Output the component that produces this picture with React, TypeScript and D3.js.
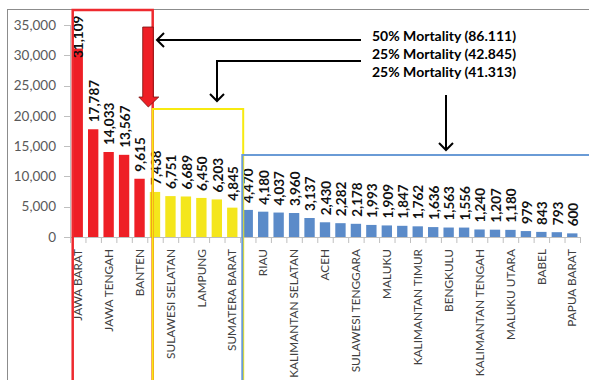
import React from "react";
import * as d3 from "d3";

const categories = [
  "JAWA BARAT", "JAWA TIMUR", "JAWA TENGAH", "DKI JAKARTA", "BANTEN",
  "SUMATERA UTARA", "SULAWESI SELATAN", "KALIMANTAN BARAT", "LAMPUNG", "NTT", "SUMATERA BARAT",
  "SUMATERA SELATAN", "RIAU", "NTB", "KALIMANTAN SELATAN", "PAPUA", "ACEH", "SULAWESI UTARA",
  "SULAWESI TENGGARA", "JAMBI", "MALUKU", "SULAWESI TENGAH", "KALIMANTAN TIMUR", "BALI",
  "BENGKULU", "GORONTALO", "KALIMANTAN TENGAH", "DI YOGYAKARTA", "MALUKU UTARA", "SULAWESI BARAT",
  "BABEL", "KEPRI", "PAPUA BARAT",
];
const values = [
  31109, 17787, 14033, 13567, 9615,
  7438, 6751, 6689, 6450, 6203, 4845,
  4470, 4180, 4037, 3960, 3137, 2430, 2282, 2178, 1993, 1909, 1847, 1762, 1636,
  1563, 1556, 1240, 1207, 1180, 979, 843, 793, 600,
];
const groupSizes = [5, 6, 22];
const groupColors = ["#ee1f26", "#f4e61c", "#5b8bc9"];
const yTicks = [0, 5000, 10000, 15000, 20000, 25000, 30000, 35000];
const notes = [
  "50% Mortality (86.111)",
  "25% Mortality (42.845)",
  "25% Mortality (41.313)",
];

const W = 589;
const H = 380;
const FONT = "Lato, 'Open Sans', sans-serif";

export default function App() {
  const x = d3.scaleBand<string>().domain(categories).range([70, 580]).paddingInner(0.33).paddingOuter(0.165);
  const y = d3.scaleLinear().domain([0, 35000]).range([237, 25]);
  const fmt = d3.format(",");
  const colorOf = (i: number) => {
    let acc = 0;
    for (let g = 0; g < groupSizes.length; g++) {
      acc += groupSizes[g];
      if (i < acc) return groupColors[g];
    }
    return groupColors[groupColors.length - 1];
  };
  const step = x.step();
  const bw = x.bandwidth();

  const arrowHead = (tx: number, ty: number, dir: "left" | "down") => {
    const s = 7;
    if (dir === "left") return `M${tx + s},${ty - s} L${tx},${ty} L${tx + s},${ty + s}`;
    return `M${tx - s},${ty - s} L${tx},${ty} L${tx + s},${ty - s}`;
  };

  return (
    <svg width={W} height={H} style={{ position: "absolute", left: 0, top: 0, background: "#fff" }}>
      {/* chart frame */}
      <rect x={7.5} y={9.5} width={700} height={500} fill="#fff" stroke="#8c8c8c" strokeWidth={1} />

      {/* y axis */}
      <line x1={70.5} x2={70.5} y1={y(35000)} y2={y(0)} stroke="#bfbfbf" />
      {yTicks.map((t) => (
        <g key={t}>
          <line x1={64} x2={70.5} y1={Math.round(y(t)) + 0.5} y2={Math.round(y(t)) + 0.5} stroke="#bfbfbf" />
          <text x={56} y={y(t)} dy="0.35em" textAnchor="end" fontFamily={FONT} fontSize={13.5} fill="#595959">
            {fmt(t)}
          </text>
        </g>
      ))}

      {/* bars */}
      {values.map((v, i) => (
        <rect key={i} x={x(categories[i])!} y={y(v)} width={bw} height={y(0) - y(v)} fill={colorOf(i)} />
      ))}

      {/* x axis */}
      <line x1={70} x2={580} y1={237.5} y2={237.5} stroke="#bfbfbf" />
      {d3.range(categories.length + 1).map((i) => (
        <line key={i} x1={70 + i * step + 0.5} x2={70 + i * step + 0.5} y1={237} y2={243} stroke="#bfbfbf" />
      ))}
      {categories.map((c, i) =>
        i % 2 === 0 ? (
          <text
            key={c}
            transform={`translate(${x(c)! + bw / 2},249) rotate(-90)`}
            textAnchor="end"
            dy="0.35em"
            fontFamily={FONT}
            fontSize={11.8}
            fill="#404040"
          >
            {c}
          </text>
        ) : null
      )}

      {/* value labels */}
      {values.map((v, i) => {
        const cx = x(categories[i])! + bw / 2 + 1;
        const start = i === 0 ? 58 : y(v) - 7;
        return (
          <text
            key={i}
            transform={`translate(${cx},${start}) rotate(-90)`}
            textAnchor="start"
            dy="0.35em"
            fontFamily={FONT}
            fontSize={13.5}
            fontWeight={700}
            fill="#111"
          >
            {fmt(v)}
          </text>
        );
      })}

      {/* group boxes */}
      <rect x={72.7} y={10} width={80} height={420} fill="none" stroke="#ee2a2f" strokeWidth={2.5} />
      <rect x={152.7} y={109} width={90.5} height={320} fill="none" stroke="#f7ea10" strokeWidth={2} />
      <rect x={242.3} y={155} width={400} height={300} fill="none" stroke="#6a9bd6" strokeWidth={2} />

      {/* red block arrow */}
      <path
        d="M142.7,27 L153.3,27 L153.3,97 L158.8,97 L148.3,107 L138.8,97 L142.7,97 Z"
        fill="#ee1f26"
        stroke="#7a1010"
        strokeWidth={0.8}
      />

      {/* black arrows */}
      <g stroke="#000" strokeWidth={2} fill="none">
        <path d="M361,40 L157,40" />
        <path d={arrowHead(157, 40, "left")} />
        <path d="M361,61 L217,61 L217,101" />
        <path d={arrowHead(217, 101, "down")} />
        <path d="M446,95 L446,150" />
        <path d={arrowHead(446, 150, "down")} />
      </g>

      {/* annotation text */}
      {notes.map((n, i) => (
        <text key={n} x={372} y={41 + i * 17.8} fontFamily={FONT} fontSize={14} fontWeight={700} fill="#000">
          {n}
        </text>
      ))}
    </svg>
  );
}
